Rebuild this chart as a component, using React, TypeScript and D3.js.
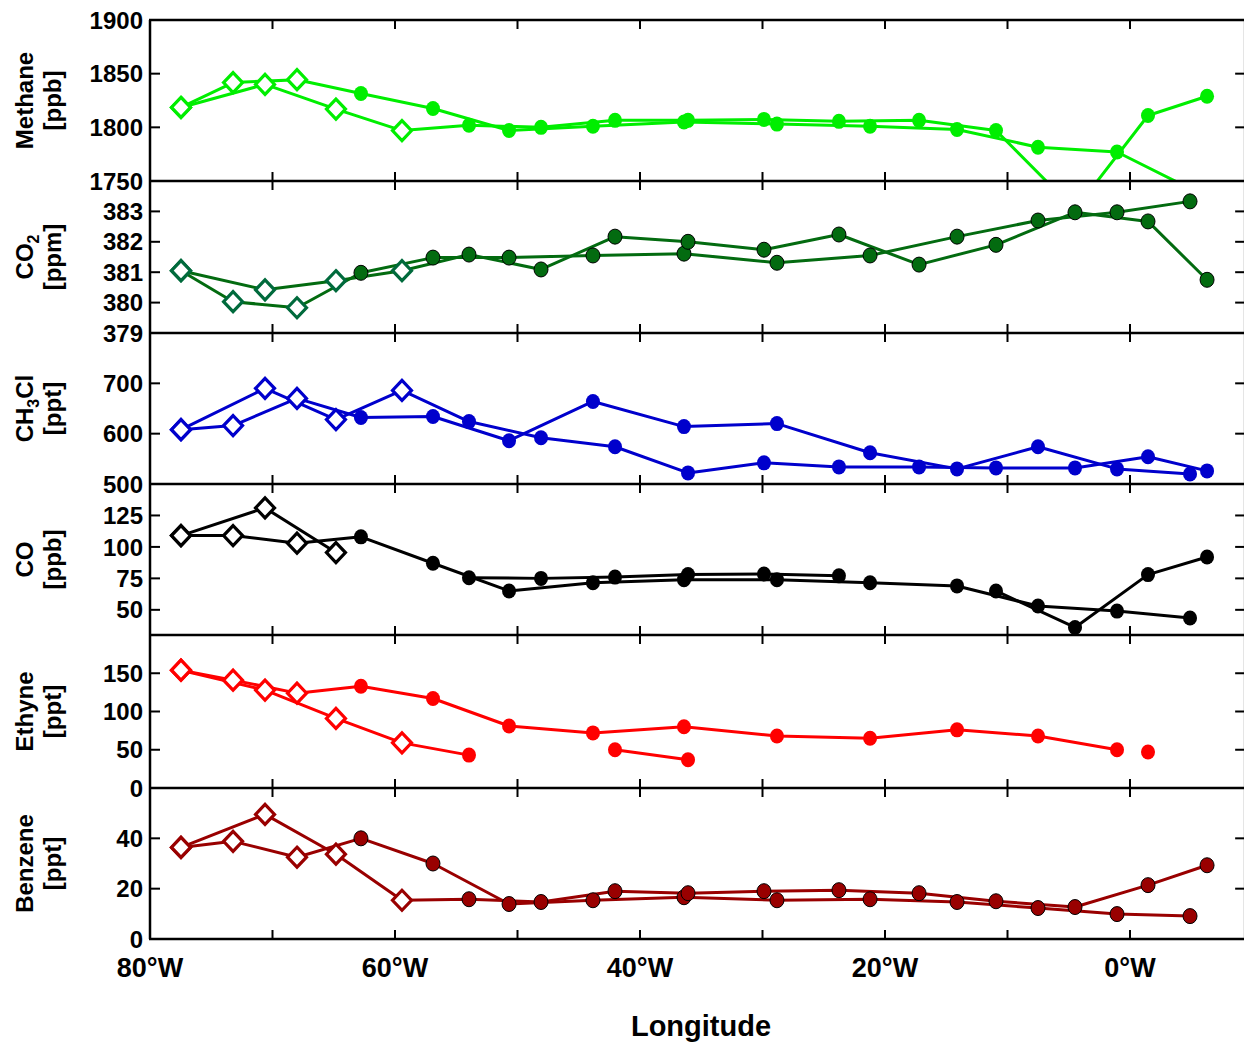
import React from 'react';
import * as d3 from 'd3';

// Longitudes (degrees, negative = west) of the two flight tracks
const lonA = [-77.47, -73.22, -68.0, -62.78, -56.9, -50.69, -43.84, -36.41, -28.82, -21.22, -14.12, -7.51, -1.06, 4.9];
const lonB = [-77.47, -70.61, -64.82, -59.43, -53.96, -48.08, -42.04, -36.08, -29.88, -23.76, -17.22, -10.94, -4.49, 1.47, 6.29];

// number of leading points drawn as open diamonds on each track
const diamondCountA = 3;
const diamondCountB = 4;

const methaneA = [1818.5, 1841.7, 1844.4, 1831.5, 1817.6, 1797, 1801, 1805, 1803, 1801, 1798, 1781.5, 1777, 1743];
const methaneB = [1818.5, 1840, 1817, 1797, 1802, 1800, 1806.5, 1806.5, 1807.4, 1805.6, 1806.5, 1797, 1723, 1811, 1829];

const co2A = [381.05, 380.03, 379.83, 380.98, 381.48, 381.48, 381.55, 381.61, 381.31, 381.55, 382.17, 382.7, 382.97, 383.33];
const co2B = [381.05, 380.42, 380.72, 381.05, 381.58, 381.09, 382.17, 382.0, 381.74, 382.24, 381.25, 381.9, 382.97, 382.67, 380.75];

const ch3clA = [608, 616, 670, 632, 634, 586, 664, 614, 620, 562, 530, 574, 530, 520];
const ch3clB = [608, 690, 628, 686, 624, 592, 574, 522, 542, 534, 534, 532, 532, 554, 526];

const coA = [109, 109, 103, 108, 87, 65, 71.5, 74, 74, 71.5, 69, 53, 49, 43.5];
const coB = [109, 131, 95.5, null, 75.5, 75, 76, 78, 78.5, 77, null, 65, 36, 78, 92];

const ethyneA = [154, 141, 124, 133, 117, 81, 72, 80, 68, 65, 76, 68, 50, null];
const ethyneB = [154, 128, 91, 59, 43, null, 50, 37, null, null, null, null, null, 47, null];

const benzeneA = [36.4, 38.8, 32.5, 40, 30, 13.9, 15.4, 16.6, 15.4, 15.8, 14.7, 12.3, 9.9, 9.1];
const benzeneB = [36.4, 49.5, 33.7, 15.4, 15.8, 14.7, 19, 18.2, 19, 19.4, 18.2, 15, 12.7, 21.4, 29.3];

const xLabelValues = [-80, -60, -40, -20, 0];
const xTickLabels = ['80°W', '60°W', '40°W', '20°W', '0°W'];
const xTickValues = [-70, -60, -50, -40, -30, -20, -10, 0];

const methaneTicks = [1900, 1850, 1800, 1750];
const co2Ticks = [383, 382, 381, 380, 379];
const ch3clTicks = [700, 600, 500];
const coTicks = [125, 100, 75, 50];
const ethyneTicks = [150, 100, 50, 0];
const benzeneTicks = [40, 20, 0];

type Part = { t: string; sub?: boolean };

const FONT = "'Liberation Sans', Arial, Helvetica, sans-serif";

export default function App() {
  const W = 1244;
  const H = 1042;
  const left = 150;
  const x = d3.scaleLinear().domain([-80, 9.4]).range([left, left + 89.4 * 12.25]);
  const right = x(9.4);
  const edges = [20, 181, 333, 484, 635, 788, 939];

  const panels = [
    { key: 'ch4', title: [{ t: 'Methane' }] as Part[], unit: '[ppb]', domain: [1750, 1900], ticks: methaneTicks, a: methaneA, b: methaneB, color: '#00ee00', dcolor: '#00ee00', outline: 'none' },
    { key: 'co2', title: [{ t: 'CO' }, { t: '2', sub: true }] as Part[], unit: '[ppm]', domain: [379, 384], ticks: co2Ticks, a: co2A, b: co2B, color: '#036b10', dcolor: '#006a3c', outline: '#000' },
    { key: 'ch3cl', title: [{ t: 'CH' }, { t: '3', sub: true }, { t: 'Cl' }] as Part[], unit: '[ppt]', domain: [500, 800], ticks: ch3clTicks, a: ch3clA, b: ch3clB, color: '#0000cc', dcolor: '#0000cc', outline: 'none' },
    { key: 'co', title: [{ t: 'CO' }] as Part[], unit: '[ppb]', domain: [30, 150], ticks: coTicks, a: coA, b: coB, color: '#000000', dcolor: '#000000', outline: 'none' },
    { key: 'c2h2', title: [{ t: 'Ethyne' }] as Part[], unit: '[ppt]', domain: [0, 200], ticks: ethyneTicks, a: ethyneA, b: ethyneB, color: '#ff0000', dcolor: '#ff0000', outline: 'none' },
    { key: 'c6h6', title: [{ t: 'Benzene' }] as Part[], unit: '[ppt]', domain: [0, 60], ticks: benzeneTicks, a: benzeneA, b: benzeneB, color: '#990000', dcolor: '#990000', outline: '#000' },
  ];

  const diamond = 'M0,-10L9.5,0L0,10L-9.5,0Z';

  return (
    <svg width={W} height={H} style={{ position: 'absolute', left: 0, top: 0, background: '#fff' }} fontFamily={FONT} fontWeight="bold">
      <rect x={0} y={0} width={W} height={H} fill="#fff" />
      <defs>
        {panels.map((p, i) => (
          <clipPath id={`clip-${p.key}`} key={p.key}>
            <rect x={left} y={edges[i]} width={right - left} height={edges[i + 1] - edges[i]} />
          </clipPath>
        ))}
      </defs>
      {panels.map((p, i) => {
        const top = edges[i];
        const bottom = edges[i + 1];
        const y = d3.scaleLinear().domain(p.domain).range([bottom, top]);
        const line = d3
          .line<[number, number | null]>()
          .defined((d) => d[1] != null)
          .x((d) => x(d[0]))
          .y((d) => y(d[1] as number));
        const ptsA: [number, number | null][] = lonA.map((l, j) => [l, p.a[j]]);
        const ptsB: [number, number | null][] = lonB.map((l, j) => [l, p.b[j]]);
        const cy = (top + bottom) / 2;
        const markers = (pts: [number, number | null][], nd: number, tr: string) =>
          pts.map((d, j) => {
            if (d[1] == null) return null;
            const px = x(d[0]);
            const py = y(d[1] as number);
            if (j < nd) {
              return (
                <path key={`${tr}${j}`} d={diamond} transform={`translate(${px},${py})`} fill="#fff" stroke={p.dcolor} strokeWidth={3.2} />
              );
            }
            return (
              <ellipse key={`${tr}${j}`} cx={px} cy={py} rx={7} ry={7.5} fill={p.color} stroke={p.outline} strokeWidth={p.outline === 'none' ? 0 : 1} />
            );
          });
        return (
          <g key={p.key}>
            <g clipPath={`url(#clip-${p.key})`}>
              <path d={line(ptsA) || ''} fill="none" stroke={p.color} strokeWidth={3} strokeLinejoin="round" />
              <path d={line(ptsB) || ''} fill="none" stroke={p.color} strokeWidth={3} strokeLinejoin="round" />
              {markers(ptsA, diamondCountA, 'a')}
              {markers(ptsB, diamondCountB, 'b')}
            </g>
            {/* y ticks */}
            {p.ticks.map((t) => (
              <g key={`t${t}`}>
                <line x1={left} x2={left + 10} y1={y(t)} y2={y(t)} stroke="#000" strokeWidth={2} />
                <line x1={right - 10} x2={right} y1={y(t)} y2={y(t)} stroke="#000" strokeWidth={2} />
                <text x={left - 7} y={y(t)} dy="0.36em" textAnchor="end" fontSize={24}>
                  {t}
                </text>
              </g>
            ))}
            {/* x ticks top & bottom */}
            {xTickValues.map((v) => (
              <g key={`x${v}`}>
                <line x1={x(v)} x2={x(v)} y1={top} y2={top + 9} stroke="#000" strokeWidth={2} />
                <line x1={x(v)} x2={x(v)} y1={bottom} y2={bottom - 9} stroke="#000" strokeWidth={2} />
              </g>
            ))}
            {/* y title */}
            <text transform={`translate(33,${cy}) rotate(-90)`} textAnchor="middle" fontSize={24}>
              {p.title.map((part, k) =>
                part.sub ? (
                  <tspan key={k} fontSize={16} dy={6}>
                    {part.t}
                  </tspan>
                ) : (
                  <tspan key={k} dy={k > 0 && p.title[k - 1].sub ? -6 : 0}>
                    {part.t}
                  </tspan>
                )
              )}
            </text>
            <text transform={`translate(61,${cy}) rotate(-90)`} textAnchor="middle" fontSize={24}>
              {p.unit}
            </text>
          </g>
        );
      })}
      {/* frame lines */}
      <line x1={left} x2={left} y1={edges[0]} y2={edges[6]} stroke="#000" strokeWidth={2.5} />
      <line x1={right} x2={right} y1={edges[0]} y2={edges[6]} stroke="#000" strokeWidth={2.5} />
      {edges.map((e, i) => (
        <line key={`e${i}`} x1={left - 1} x2={right} y1={e} y2={e} stroke="#000" strokeWidth={2.5} />
      ))}
      {/* x labels */}
      {xLabelValues.map((v, i) => (
        <text key={`xl${v}`} x={x(v)} y={977} textAnchor="middle" fontSize={27}>
          {xTickLabels[i]}
        </text>
      ))}
      <text x={701} y={1036} textAnchor="middle" fontSize={29}>
        Longitude
      </text>
    </svg>
  );
}
